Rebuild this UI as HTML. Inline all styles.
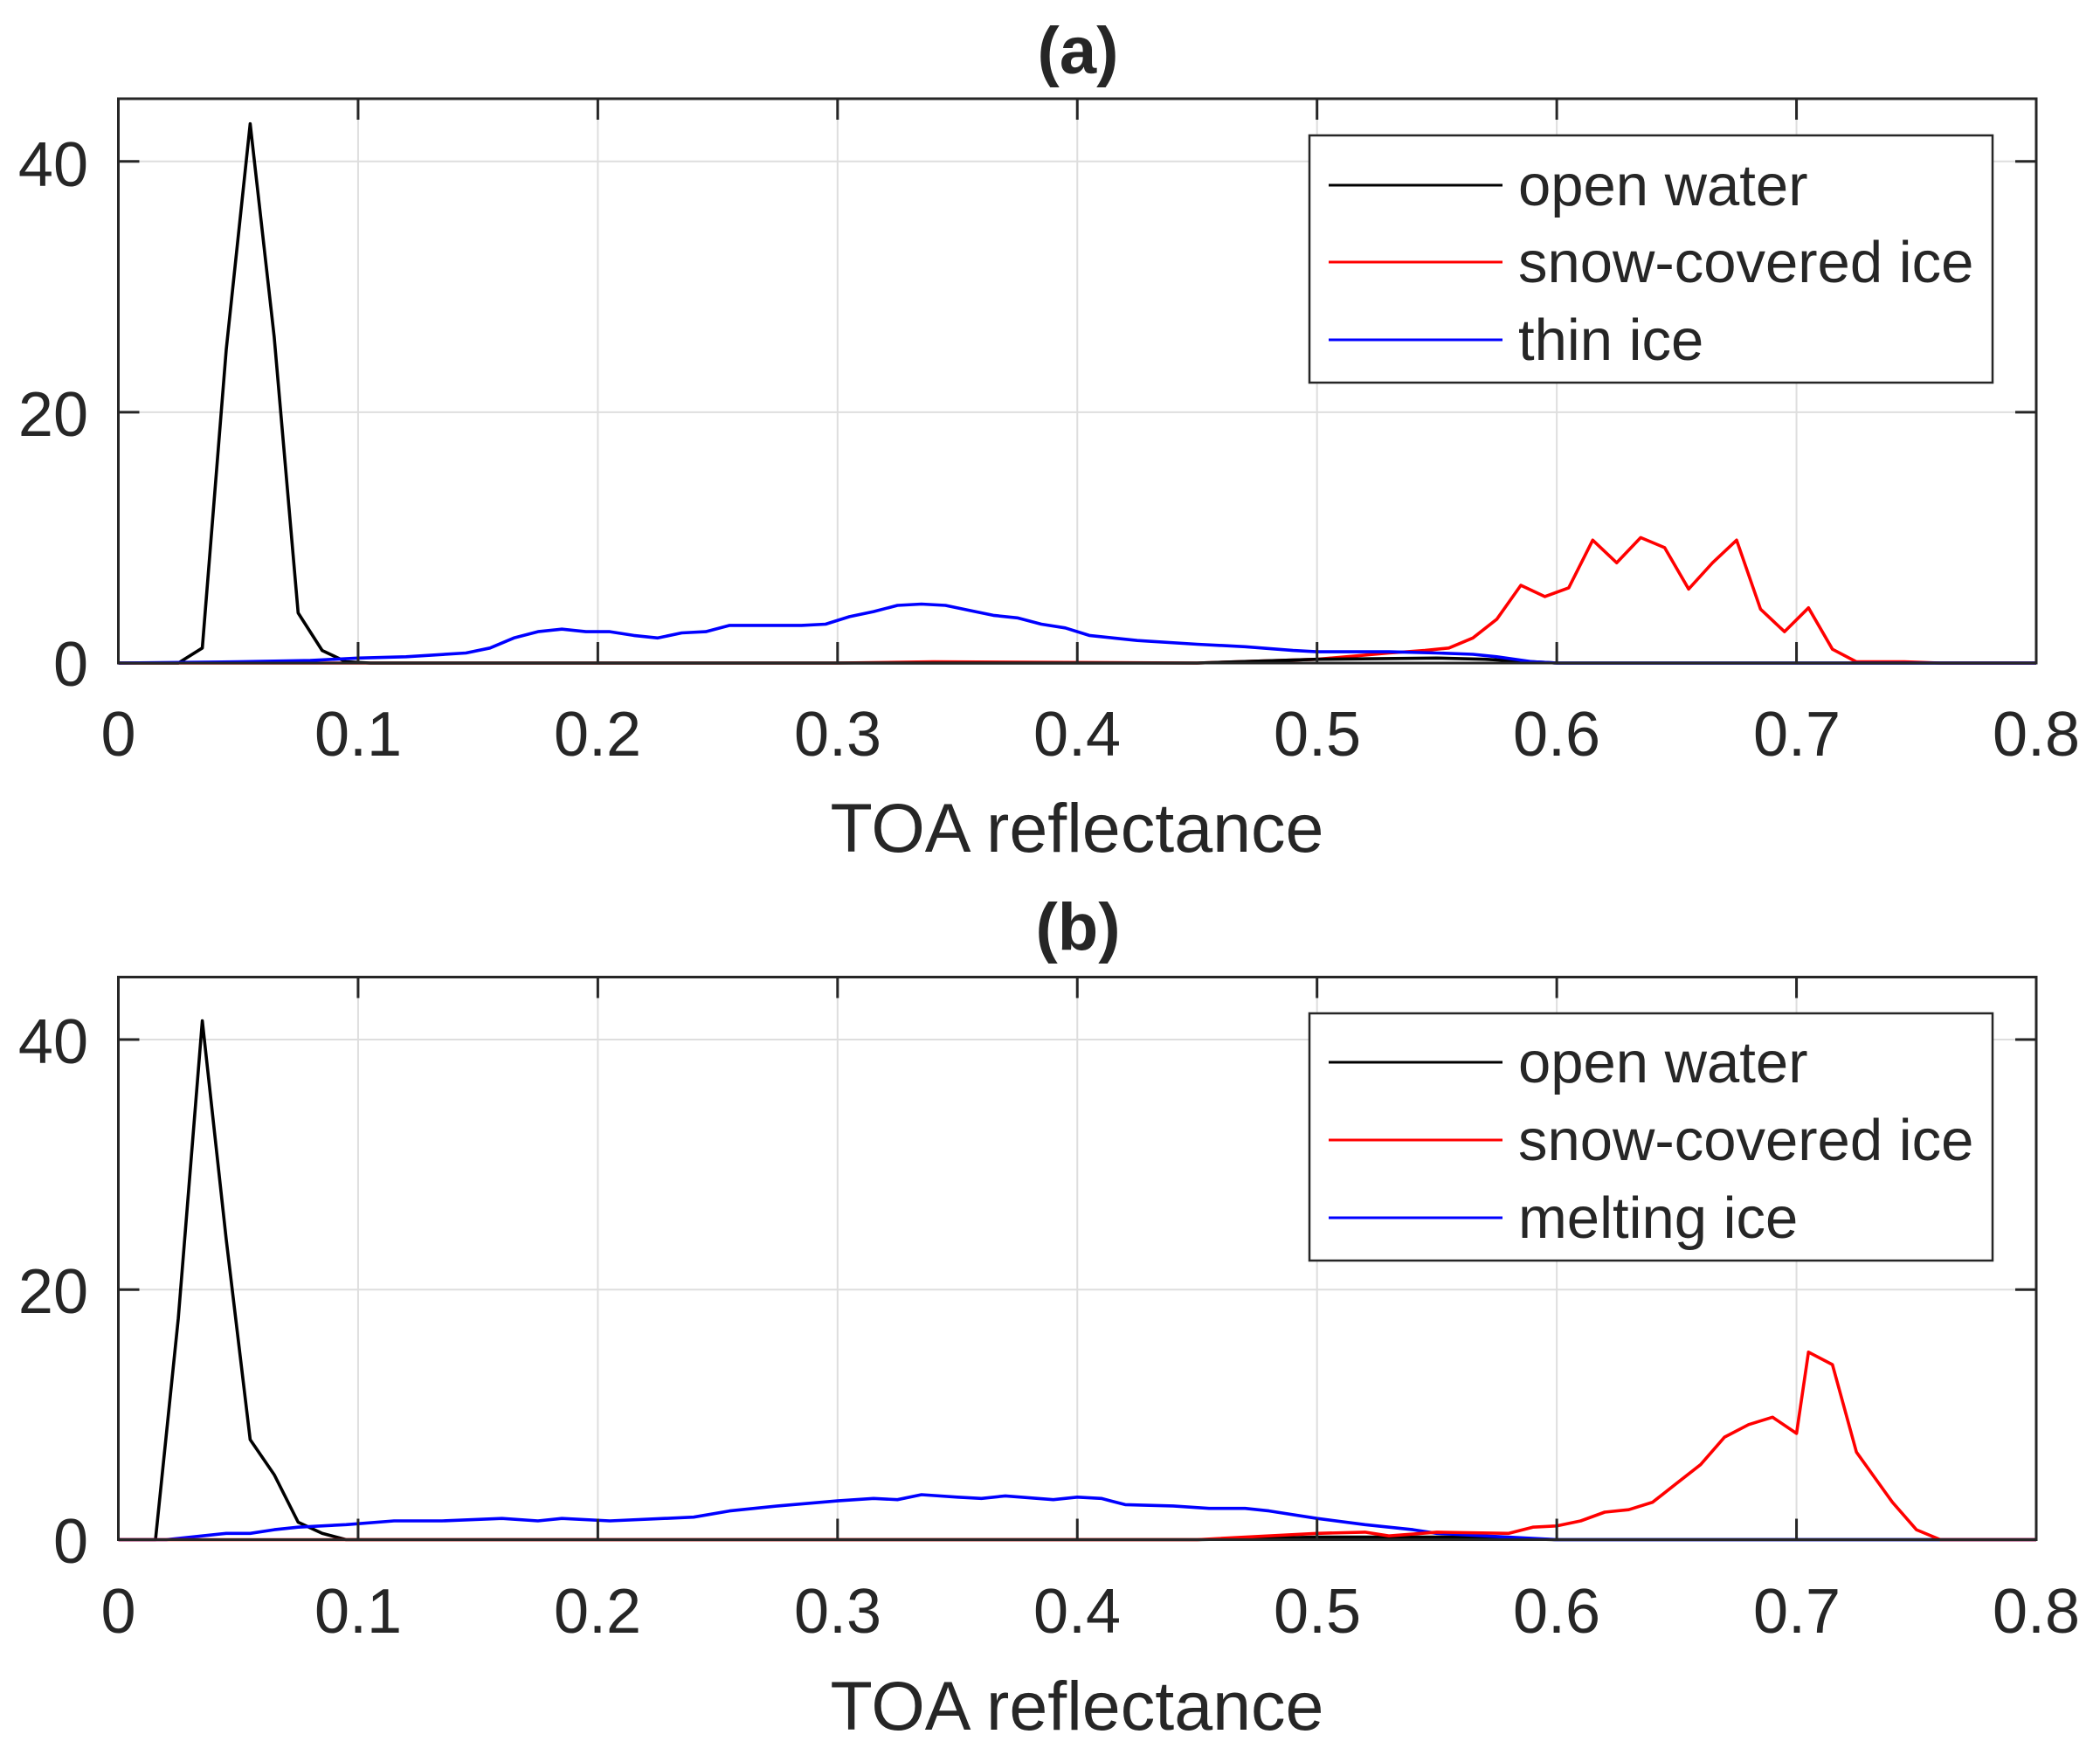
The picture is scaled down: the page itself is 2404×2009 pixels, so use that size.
<!DOCTYPE html>
<html><head><meta charset="utf-8"><style>
html,body{margin:0;padding:0;background:#fff;}
svg text{font-family:"Liberation Sans",Arial,sans-serif;fill:#262626;}
</style></head><body>
<svg id="s" width="2404" height="2004" xmlns="http://www.w3.org/2000/svg">
<rect width="2404" height="2004" fill="#fff"/>
<g id="pa"></g>
<g id="pb"></g>
<text x="1234" y="84" font-size="76" font-weight="bold" text-anchor="middle" fill="#000">(a)</text>
<text x="1234" y="1087" font-size="76" font-weight="bold" text-anchor="middle" fill="#000">(b)</text>
<text x="1233" y="975" font-size="79" text-anchor="middle">TOA reflectance</text>
<text x="1233" y="1980" font-size="79" text-anchor="middle">TOA reflectance</text>
<g font-size="72" text-anchor="middle">
<text x="135.5" y="865">0</text><text x="410" y="865">0.1</text><text x="684" y="865">0.2</text><text x="959" y="865">0.3</text><text x="1233" y="865">0.4</text><text x="1508" y="865">0.5</text><text x="1782" y="865">0.6</text><text x="2057" y="865">0.7</text><text x="2331" y="865">0.8</text>
<text x="135.5" y="1869">0</text><text x="410" y="1869">0.1</text><text x="684" y="1869">0.2</text><text x="959" y="1869">0.3</text><text x="1233" y="1869">0.4</text><text x="1508" y="1869">0.5</text><text x="1782" y="1869">0.6</text><text x="2057" y="1869">0.7</text><text x="2331" y="1869">0.8</text>
</g>
<g font-size="72" text-anchor="end">
<text x="101" y="785">0</text><text x="101" y="499">20</text><text x="101" y="213">40</text>
<text x="101" y="1789">0</text><text x="101" y="1503">20</text><text x="101" y="1217">40</text>
</g>
<g>
<rect x="1499" y="155" width="782" height="283" fill="#fff" stroke="#262626" stroke-width="2.5"/>
<line x1="1521" y1="212" x2="1720" y2="212" stroke="#000" stroke-width="3"/>
<line x1="1521" y1="300" x2="1720" y2="300" stroke="#f00" stroke-width="3"/>
<line x1="1521" y1="389" x2="1720" y2="389" stroke="#00f" stroke-width="3"/>
<text x="1738" y="235" font-size="67" fill="#000">open water</text>
<text x="1738" y="323" font-size="67" fill="#000">snow-covered ice</text>
<text x="1738" y="412" font-size="67" fill="#000">thin ice</text>
</g>
<g>
<rect x="1499" y="1160" width="782" height="283" fill="#fff" stroke="#262626" stroke-width="2.5"/>
<line x1="1521" y1="1216" x2="1720" y2="1216" stroke="#000" stroke-width="3"/>
<line x1="1521" y1="1305" x2="1720" y2="1305" stroke="#f00" stroke-width="3"/>
<line x1="1521" y1="1394" x2="1720" y2="1394" stroke="#00f" stroke-width="3"/>
<text x="1738" y="1239" font-size="67" fill="#000">open water</text>
<text x="1738" y="1328" font-size="67" fill="#000">snow-covered ice</text>
<text x="1738" y="1417" font-size="67" fill="#000">melting ice</text>
</g>
</svg>
<script>
(function(){
var NS="http://www.w3.org/2000/svg";
function el(p,n,a){var e=document.createElementNS(NS,n);for(var k in a)e.setAttribute(k,a[k]);p.appendChild(e);return e;}
function panel(g,top,zero,series){
 var x0=135.5,x1=2331,ppu=(zero-top)/45;
 function X(v){return x0+v*(x1-x0)/0.8;}
 function Y(v){return zero-v*ppu;}
 for(var i=1;i<8;i++)el(g,"line",{x1:X(i/10),x2:X(i/10),y1:top,y2:zero,stroke:"#dedede","stroke-width":2});
 [20,40].forEach(function(v){el(g,"line",{x1:x0,x2:x1,y1:Y(v),y2:Y(v),stroke:"#dedede","stroke-width":2});});
 series.forEach(function(s){
  var pts=s.d.map(function(p){return X(p[0]).toFixed(1)+","+Y(p[1]).toFixed(1);}).join(" ");
  el(g,"polyline",{points:pts,fill:"none",stroke:s.c,"stroke-width":3.6,"stroke-linejoin":"round"});
 });
 el(g,"rect",{x:x0,y:top,width:x1-x0,height:zero-top,fill:"none",stroke:"#262626","stroke-width":3});
 for(var i=1;i<8;i++){el(g,"line",{x1:X(i/10),x2:X(i/10),y1:zero,y2:zero-24,stroke:"#262626","stroke-width":3});el(g,"line",{x1:X(i/10),x2:X(i/10),y1:top,y2:top+24,stroke:"#262626","stroke-width":3});}
 [20,40].forEach(function(v){el(g,"line",{x1:x0,x2:x0+24,y1:Y(v),y2:Y(v),stroke:"#262626","stroke-width":3});el(g,"line",{x1:x1,x2:x1-24,y1:Y(v),y2:Y(v),stroke:"#262626","stroke-width":3});});
}
var blackA=[[0,0],[0.025,0],[0.035,1.2],[0.045,25],[0.055,43],[0.065,26],[0.075,4],[0.085,1],[0.095,0.1],[0.105,0],[0.45,0],[0.5,0.3],[0.55,0.4],[0.57,0.3],[0.6,0],[0.8,0]];
var blueA=[[0,0],[0.05,0.1],[0.08,0.2],[0.1,0.4],[0.12,0.5],[0.145,0.8],[0.155,1.2],[0.165,2],[0.175,2.5],[0.185,2.7],[0.195,2.5],[0.205,2.5],[0.215,2.2],[0.225,2],[0.235,2.4],[0.245,2.5],[0.255,3],[0.265,3],[0.285,3],[0.295,3.1],[0.305,3.7],[0.315,4.1],[0.325,4.6],[0.335,4.7],[0.345,4.6],[0.355,4.2],[0.365,3.8],[0.375,3.6],[0.385,3.1],[0.395,2.8],[0.405,2.2],[0.415,2],[0.425,1.8],[0.45,1.5],[0.47,1.3],[0.49,1],[0.5,0.9],[0.53,0.9],[0.55,0.8],[0.565,0.7],[0.575,0.5],[0.59,0.1],[0.6,0],[0.8,0]];
var redA=[[0,0],[0.3,0],[0.34,0.1],[0.45,0],[0.5,0.3],[0.53,0.8],[0.545,1.0],[0.555,1.2],[0.565,2],[0.575,3.5],[0.585,6.2],[0.595,5.3],[0.605,6],[0.615,9.8],[0.625,8],[0.635,10],[0.645,9.2],[0.655,5.9],[0.665,8],[0.675,9.8],[0.685,4.3],[0.695,2.5],[0.705,4.4],[0.715,1.1],[0.725,0.1],[0.745,0.1],[0.76,0],[0.8,0]];
var blackB=[[0,0],[0.0155,0],[0.025,17.7],[0.035,41.5],[0.045,24],[0.055,8],[0.065,5.2],[0.075,1.4],[0.085,0.5],[0.095,0],[0.45,0],[0.5,0.2],[0.56,0.2],[0.6,0],[0.8,0]];
var blueB=[[0,0],[0.02,0],[0.035,0.3],[0.045,0.5],[0.055,0.5],[0.065,0.8],[0.075,1],[0.095,1.2],[0.115,1.5],[0.135,1.5],[0.16,1.7],[0.175,1.5],[0.185,1.7],[0.205,1.5],[0.24,1.8],[0.255,2.3],[0.275,2.7],[0.3,3.1],[0.315,3.3],[0.325,3.2],[0.335,3.6],[0.35,3.4],[0.36,3.3],[0.37,3.5],[0.39,3.2],[0.4,3.4],[0.41,3.3],[0.42,2.8],[0.44,2.7],[0.455,2.5],[0.47,2.5],[0.48,2.3],[0.5,1.7],[0.52,1.2],[0.54,0.8],[0.55,0.5],[0.57,0.3],[0.59,0.1],[0.6,0],[0.8,0]];
var redB=[[0,0],[0.45,0],[0.5,0.5],[0.52,0.6],[0.53,0.3],[0.55,0.6],[0.58,0.5],[0.59,1],[0.6,1.1],[0.61,1.5],[0.62,2.2],[0.63,2.4],[0.64,3],[0.65,4.5],[0.66,6],[0.67,8.2],[0.68,9.2],[0.69,9.8],[0.7,8.5],[0.705,15],[0.715,14],[0.725,7],[0.74,3],[0.75,0.8],[0.76,0],[0.8,0]];
panel(document.getElementById("pa"),113,759,[{c:"#f00",d:redA},{c:"#000",d:blackA},{c:"#00f",d:blueA}]);
panel(document.getElementById("pb"),1118.5,1762.5,[{c:"#000",d:blackB},{c:"#00f",d:blueB},{c:"#f00",d:redB}]);
})();
</script>
</body></html>
